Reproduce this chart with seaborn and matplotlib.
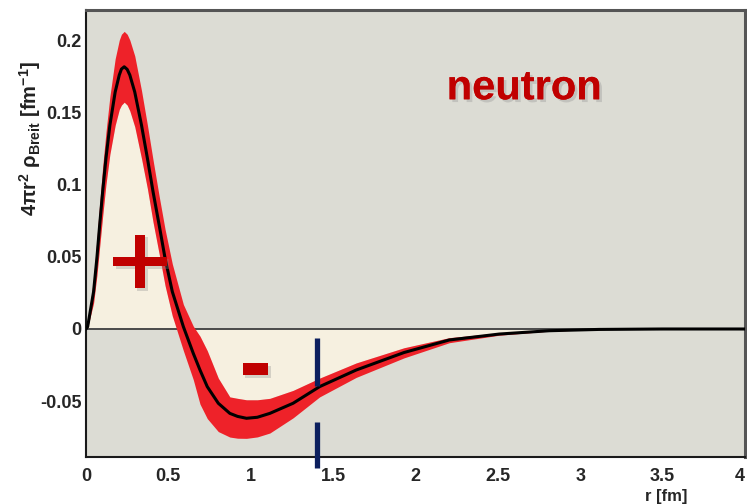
import numpy as np
import pandas as pd
import matplotlib
matplotlib.use("Agg")
import matplotlib.pyplot as plt
import matplotlib.patheffects as pe
from matplotlib.ticker import MultipleLocator
import seaborn as sns

# ---- data ----
r = [0.0, 0.01, 0.046, 0.066, 0.083, 0.101, 0.121, 0.145, 0.177, 0.202, 0.215,
     0.232, 0.25, 0.266, 0.296, 0.337, 0.373, 0.407, 0.444, 0.48, 0.524,
     0.591, 0.651, 0.692, 0.736, 0.803, 0.873, 0.92, 0.974, 1.04, 1.116,
     1.257, 1.418, 1.64, 1.93, 2.205, 2.508, 2.811, 3.113, 3.5, 4.0]
rho = [0.0, 0.0016, 0.0258, 0.0489, 0.072, 0.095, 0.118, 0.141, 0.164, 0.1758,
       0.1799, 0.1815, 0.1797, 0.1758, 0.164, 0.141, 0.118, 0.095, 0.072,
       0.0489, 0.0258, 0.0016, -0.0168, -0.0284, -0.0399, -0.0514, -0.0584,
       -0.0605, -0.0618, -0.0611, -0.0584, -0.0514, -0.0399, -0.0284, -0.0163,
       -0.0076, -0.0035, -0.0012, -0.0003, 0.0, 0.0]
band_hi = [0.0, 0.003, 0.035, 0.062, 0.087, 0.112, 0.136, 0.161, 0.187, 0.200,
           0.204, 0.206, 0.204, 0.200, 0.189, 0.165, 0.141, 0.117, 0.092,
           0.069, 0.045, 0.017, 0.002, -0.005, -0.015, -0.034, -0.047, -0.048,
           -0.049, -0.049, -0.048, -0.0425, -0.034, -0.0235, -0.013, -0.006,
           -0.0027, -0.0009, -0.0002, 0.0, 0.0]
band_lo = [0.0, 0.001, 0.018, 0.037, 0.057, 0.078, 0.100, 0.121, 0.141, 0.152,
           0.155, 0.157, 0.155, 0.151, 0.140, 0.118, 0.097, 0.074, 0.052,
           0.030, 0.009, -0.015, -0.035, -0.052, -0.062, -0.071, -0.0748,
           -0.0756, -0.0757, -0.0747, -0.072, -0.0615, -0.047, -0.0335, -0.020,
           -0.0095, -0.0043, -0.0015, -0.0004, 0.0, 0.0]

xticks = [0, 0.5, 1, 1.5, 2, 2.5, 3, 3.5, 4]
xticklabels = ["0", "0.5", "1", "1.5", "2", "2.5", "3", "3.5", "4"]
yticks = [-0.05, 0, 0.05, 0.1, 0.15, 0.2]
yticklabels = ["-0.05", "0", "0.05", "0.1", "0.15", "0.2"]

marker_r = 1.4
marker_upper = (-0.0064, -0.0392)
marker_lower = (-0.0646, -0.096)

df = pd.DataFrame({"r": r, "rho": rho, "hi": band_hi, "lo": band_lo})

sns.set_style("white")
plt.rcParams["font.family"] = ["Liberation Sans", "DejaVu Sans"]
plt.rcParams["mathtext.fontset"] = "custom"
plt.rcParams["mathtext.rm"] = "Liberation Sans:bold"
plt.rcParams["mathtext.bf"] = "Liberation Sans:bold"
plt.rcParams["mathtext.it"] = "Liberation Sans:bold"
plt.rcParams["mathtext.default"] = "rm"

fig = plt.figure(figsize=(7.47, 5.04), dpi=100)
ax = fig.add_axes([86 / 747, 47 / 504, 659 / 747, 447 / 504])
ax.set_facecolor("#dcdcd4")

rr = df["r"].to_numpy()
pos_fill = np.where(df["rho"] >= 0, np.maximum(df["lo"], 0), 0)
neg_fill = np.where(df["rho"] < 0, np.minimum(df["hi"], 0), 0)
ax.fill_between(rr, 0, pos_fill, color="#f6f0e0", lw=0, zorder=1)
ax.fill_between(rr, 0, neg_fill, color="#f6f0e0", lw=0, zorder=1)

ax.axhline(0, color="#4a4a4a", lw=1.4, zorder=2)

ax.fill_between(rr, df["lo"], df["hi"], color="#ee2229", lw=0, zorder=3)
sns.lineplot(data=df, x="r", y="rho", ax=ax, color="black", lw=2.2,
             zorder=4, legend=False)

ax.set_xlim(0, 4)
ax.set_ylim(-0.0886, 0.2208)
ax.set_xticks(xticks, xticklabels)
ax.set_yticks(yticks, yticklabels)
ax.xaxis.set_minor_locator(MultipleLocator(0.1))
ax.yaxis.set_minor_locator(MultipleLocator(0.01))
ax.tick_params(axis="x", which="major", direction="in", length=9.4, width=1.1,
               color="#3a3a3a", pad=8, labelsize=13)
ax.tick_params(axis="x", which="minor", direction="in", length=4.5, width=1.1,
               color="#3a3a3a")
ax.tick_params(axis="y", which="major", direction="in", length=13.7, width=1.1,
               color="#3a3a3a", pad=3, labelsize=13)
ax.tick_params(axis="y", which="minor", direction="in", length=7, width=1.1,
               color="#3a3a3a")
ax.tick_params(top=False, right=False, which="both")
for lab in ax.get_xticklabels() + ax.get_yticklabels():
    lab.set_fontweight("bold")
ax.get_xticklabels()[-1].set_horizontalalignment("right")

for s in ["left", "bottom"]:
    ax.spines[s].set_color("#1a1a1a")
    ax.spines[s].set_linewidth(1.5)
for s in ["top", "right"]:
    ax.spines[s].set_color("#555555")
    ax.spines[s].set_linewidth(2.2)

ax.set_xlabel("")
ax.set_ylabel("")
fig.text(687 / 747, 1 - 497 / 504, "r [fm]", ha="right", va="center",
         fontsize=12, fontweight="bold")
fig.text(30 / 747, 1 - 138 / 504,
         "4πr$^{2}$ ρ$_{Breit}$ [fm$^{-1}$]",
         rotation=90, ha="center", va="center", fontsize=14.5,
         fontweight="bold", color="#222222")

shadow = [pe.withSimplePatchShadow(offset=(2, -2), shadow_rgbFace="#888888",
                                   alpha=0.3), pe.Normal()]
ax.text(2.66, 0.159, "neutron", color="#c00000", fontsize=30,
        fontweight="bold", ha="center", va="baseline", zorder=6,
        path_effects=shadow)
ax.text(0.326, 0.0443, "+", color="#c00000", fontsize=62, fontweight="bold",
        ha="center", va="center", zorder=6, path_effects=shadow,
        family="DejaVu Sans")
ax.text(1.028, -0.0282, "-", color="#c00000", fontsize=60, fontweight="bold",
        ha="center", va="center", zorder=6, path_effects=shadow,
        family="DejaVu Sans")

ax.vlines(marker_r, *marker_upper, color="#0c1f5e", lw=3.8, zorder=6)
ax.vlines(marker_r, *marker_lower, color="#0c1f5e", lw=3.8, zorder=6,
          clip_on=False)

fig.savefig("out.png", dpi=100, facecolor="white")
